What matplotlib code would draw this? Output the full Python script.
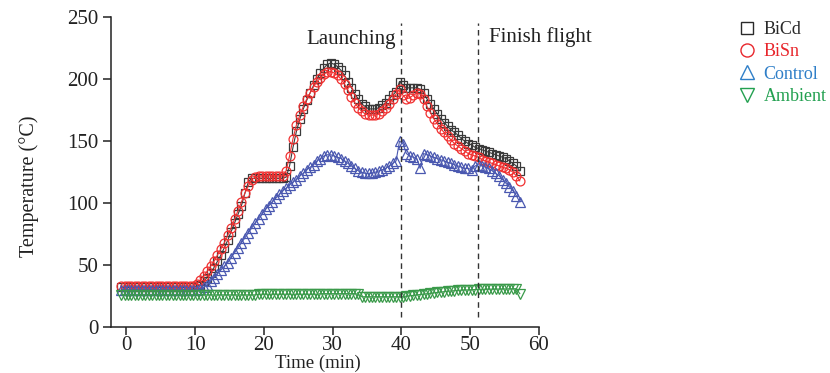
"""Temperature history of the BiCd / BiSn / control / ambient probes during the flight."""

import matplotlib

matplotlib.use("Agg")
import matplotlib.pyplot as plt
import numpy as np
from matplotlib.lines import Line2D

plt.rcParams["font.family"] = ["Liberation Serif", "DejaVu Serif"]

# Sampling grid: one reading every 0.5 min.
TIME = np.arange(-0.75, 57.3, 0.5)

BICD = [
    32, 32, 32, 32, 32, 32, 32, 32, 32, 32, 32, 32, 32, 32, 32, 32, 32, 32, 32, 32, 32, 32,
    33, 34, 37, 40, 44, 48, 53, 58, 64, 70, 77, 84, 91, 98, 108, 117, 120,
    120, 120, 120, 120, 120, 120, 120, 120, 120, 121,
    130, 145, 158, 168, 176, 183, 189, 195, 200, 205, 209, 212, 213, 212, 210, 207,
    203, 198, 193, 188, 184, 180, 178, 176, 176, 176, 177, 179, 181, 184, 187, 190,
    198, 195, 193, 193, 193, 193, 192, 189, 184, 180, 176, 172, 168, 165, 162, 159,
    157, 155, 152, 150, 148, 147, 145, 144, 143, 142, 141, 140, 139, 138, 137, 136,
    134, 132, 130, 126,
]

BISN = [
    33, 33, 33, 33, 33, 33, 33, 33, 33, 33, 33, 33, 33, 33, 33, 33, 33, 33, 33, 33, 33, 33,
    35, 38, 41, 45, 49, 53, 58, 63, 68, 74, 80, 87, 94, 101, 108, 114, 119, 121,
    122, 122, 122, 122, 122, 122, 122, 122,
    126, 138, 152, 163, 171, 178, 184, 189, 194, 198, 201, 204, 206, 206, 205, 203,
    200, 196, 191, 186, 181, 177, 174, 172, 171, 171, 171, 172, 174, 177, 180, 184,
    188, 192, 187, 184, 185, 187, 189, 188, 184, 178, 173, 168, 164, 160, 157, 154,
    151, 148, 146, 144, 142, 140, 139, 138, 137, 135, 134, 133, 132, 131, 130, 129,
    128, 127, 125, 122, 118,
]

CONTROL = [
    30, 30, 30, 30, 30, 30, 30, 30, 30, 30, 30, 30, 30, 30, 30, 30, 30, 30, 30, 30, 30, 30,
    30, 31, 32, 34, 37, 40, 43, 46, 49, 52, 56, 60, 64, 68, 72, 76, 80, 84, 87, 91,
    95, 98, 101, 104, 107, 110, 112, 115, 117, 119, 122, 124, 127, 129, 131, 134,
    136, 138, 139, 139, 138, 137, 136, 134, 132, 130, 128, 126, 125, 124, 124, 124,
    125, 126, 127, 128, 130, 132, 134, 150, 148, 140, 138, 137, 136, 128, 140, 139,
    138, 137, 136, 135, 134, 133, 132, 131, 130, 129, 128, 128, 127, 130, 131, 130,
    129, 128, 126, 124, 122, 119, 116, 113, 110, 106, 101,
]

AMBIENT = [
    26, 26, 26, 26, 26, 26, 26, 26, 26, 26, 26, 26, 26, 26, 26, 26, 26, 26, 26, 26,
    26, 26, 26, 26, 26, 26, 26, 26, 26, 26, 26, 26, 26, 26, 26, 26, 26, 26, 26, 26,
    26.5, 26.5, 26.5, 26.5, 26.5, 26.5, 26.5, 26.5, 26.5, 26.5, 26.5, 26.5, 26.5,
    26.5, 26.5, 26.5, 26.5, 26.5,
    27, 27, 27, 27, 27, 27, 27, 27, 27, 27, 27, 26.5,
    24.5, 24.5, 24.5, 24.5, 24.5, 24.5, 24.5, 24.5, 24.5, 24.5, 24.5, 24.5, 24.5,
    25, 25.3, 25.6, 26, 26.3, 26.6, 27, 27.3, 27.6, 28, 28.3, 28.6, 29, 29.2, 29.4,
    29.6, 29.8, 30, 30, 30.2, 30.3, 30.4, 30.5, 30.5, 30.6, 30.6, 30.7, 30.7, 30.8,
    30.8, 30.9, 30.9, 31, 27,
]

LAUNCH_TIME = 40.0
FINISH_TIME = 51.2

# (label, data, marker, plot colour, legend colour, marker size)
SERIES = [
    ("BiCd", BICD, "s", "#3a3a3a", "#2a2a2a", 5.8),
    ("BiSn", BISN, "o", "#f03030", "#e8262c", 6.4),
    ("Control", CONTROL, "^", "#4a58b0", "#2f7fc8", 6.8),
    ("Ambient", AMBIENT, "v", "#3a9a4a", "#22a050", 6.8),
]


def main() -> None:
    fig = plt.figure(figsize=(8.3, 3.73), dpi=100)
    ax = fig.add_axes([0.134, 0.123, 0.515, 0.831])

    for label, data, marker, color, _, size in SERIES:
        ax.plot(
            TIME, data, marker=marker, ms=size, mfc="none", mec=color,
            mew=0.9, color=color, lw=0.8, label=label,
        )

    for t in (LAUNCH_TIME, FINISH_TIME):
        ax.plot([t, t], [8, 245], ls=(0, (4, 3)), color="#333333", lw=1.0)

    ax.text(39.2, 228, "Launching", ha="right", va="baseline", fontsize=15, color="#222222")
    ax.text(52.8, 230, "Finish flight", ha="left", va="baseline", fontsize=15, color="#222222")

    ax.set_xlim(-2.2, 60)
    ax.set_ylim(0, 250)
    ax.set_xticks(np.arange(0, 61, 10))
    ax.set_yticks(np.arange(0, 251, 50))
    for side in ("top", "right"):
        ax.spines[side].set_visible(False)
    for side in ("left", "bottom"):
        ax.spines[side].set_linewidth(1.1)
        ax.spines[side].set_color("#222222")
    ax.tick_params(labelsize=15, length=5.5, width=1.1, colors="#222222")
    ax.tick_params(axis="x", pad=1)
    ax.set_xlabel("Time (min)", fontsize=13.5, color="#222222")
    ax.set_ylabel("Temperature (\u00b0C)", fontsize=14.5, color="#222222")
    ax.xaxis.set_label_coords(0.484, -0.088)
    ax.yaxis.set_label_coords(-0.17, 0.455)

    handles = [
        Line2D([], [], ls="none", marker=m, ms=s + 3, mfc="none", mec=lc, mew=1.0)
        for _, _, m, _, lc, s in SERIES
    ]
    leg = fig.legend(
        handles, [s[0] for s in SERIES], loc="upper left",
        bbox_to_anchor=(0.881, 0.968), frameon=False, fontsize=13,
        handlelength=0.8, handletextpad=0.5, labelspacing=0.3, borderpad=0,
    )
    for txt, s in zip(leg.get_texts(), SERIES):
        txt.set_color(s[4])

    fig.savefig("out.png", dpi=100)


if __name__ == "__main__":
    main()
